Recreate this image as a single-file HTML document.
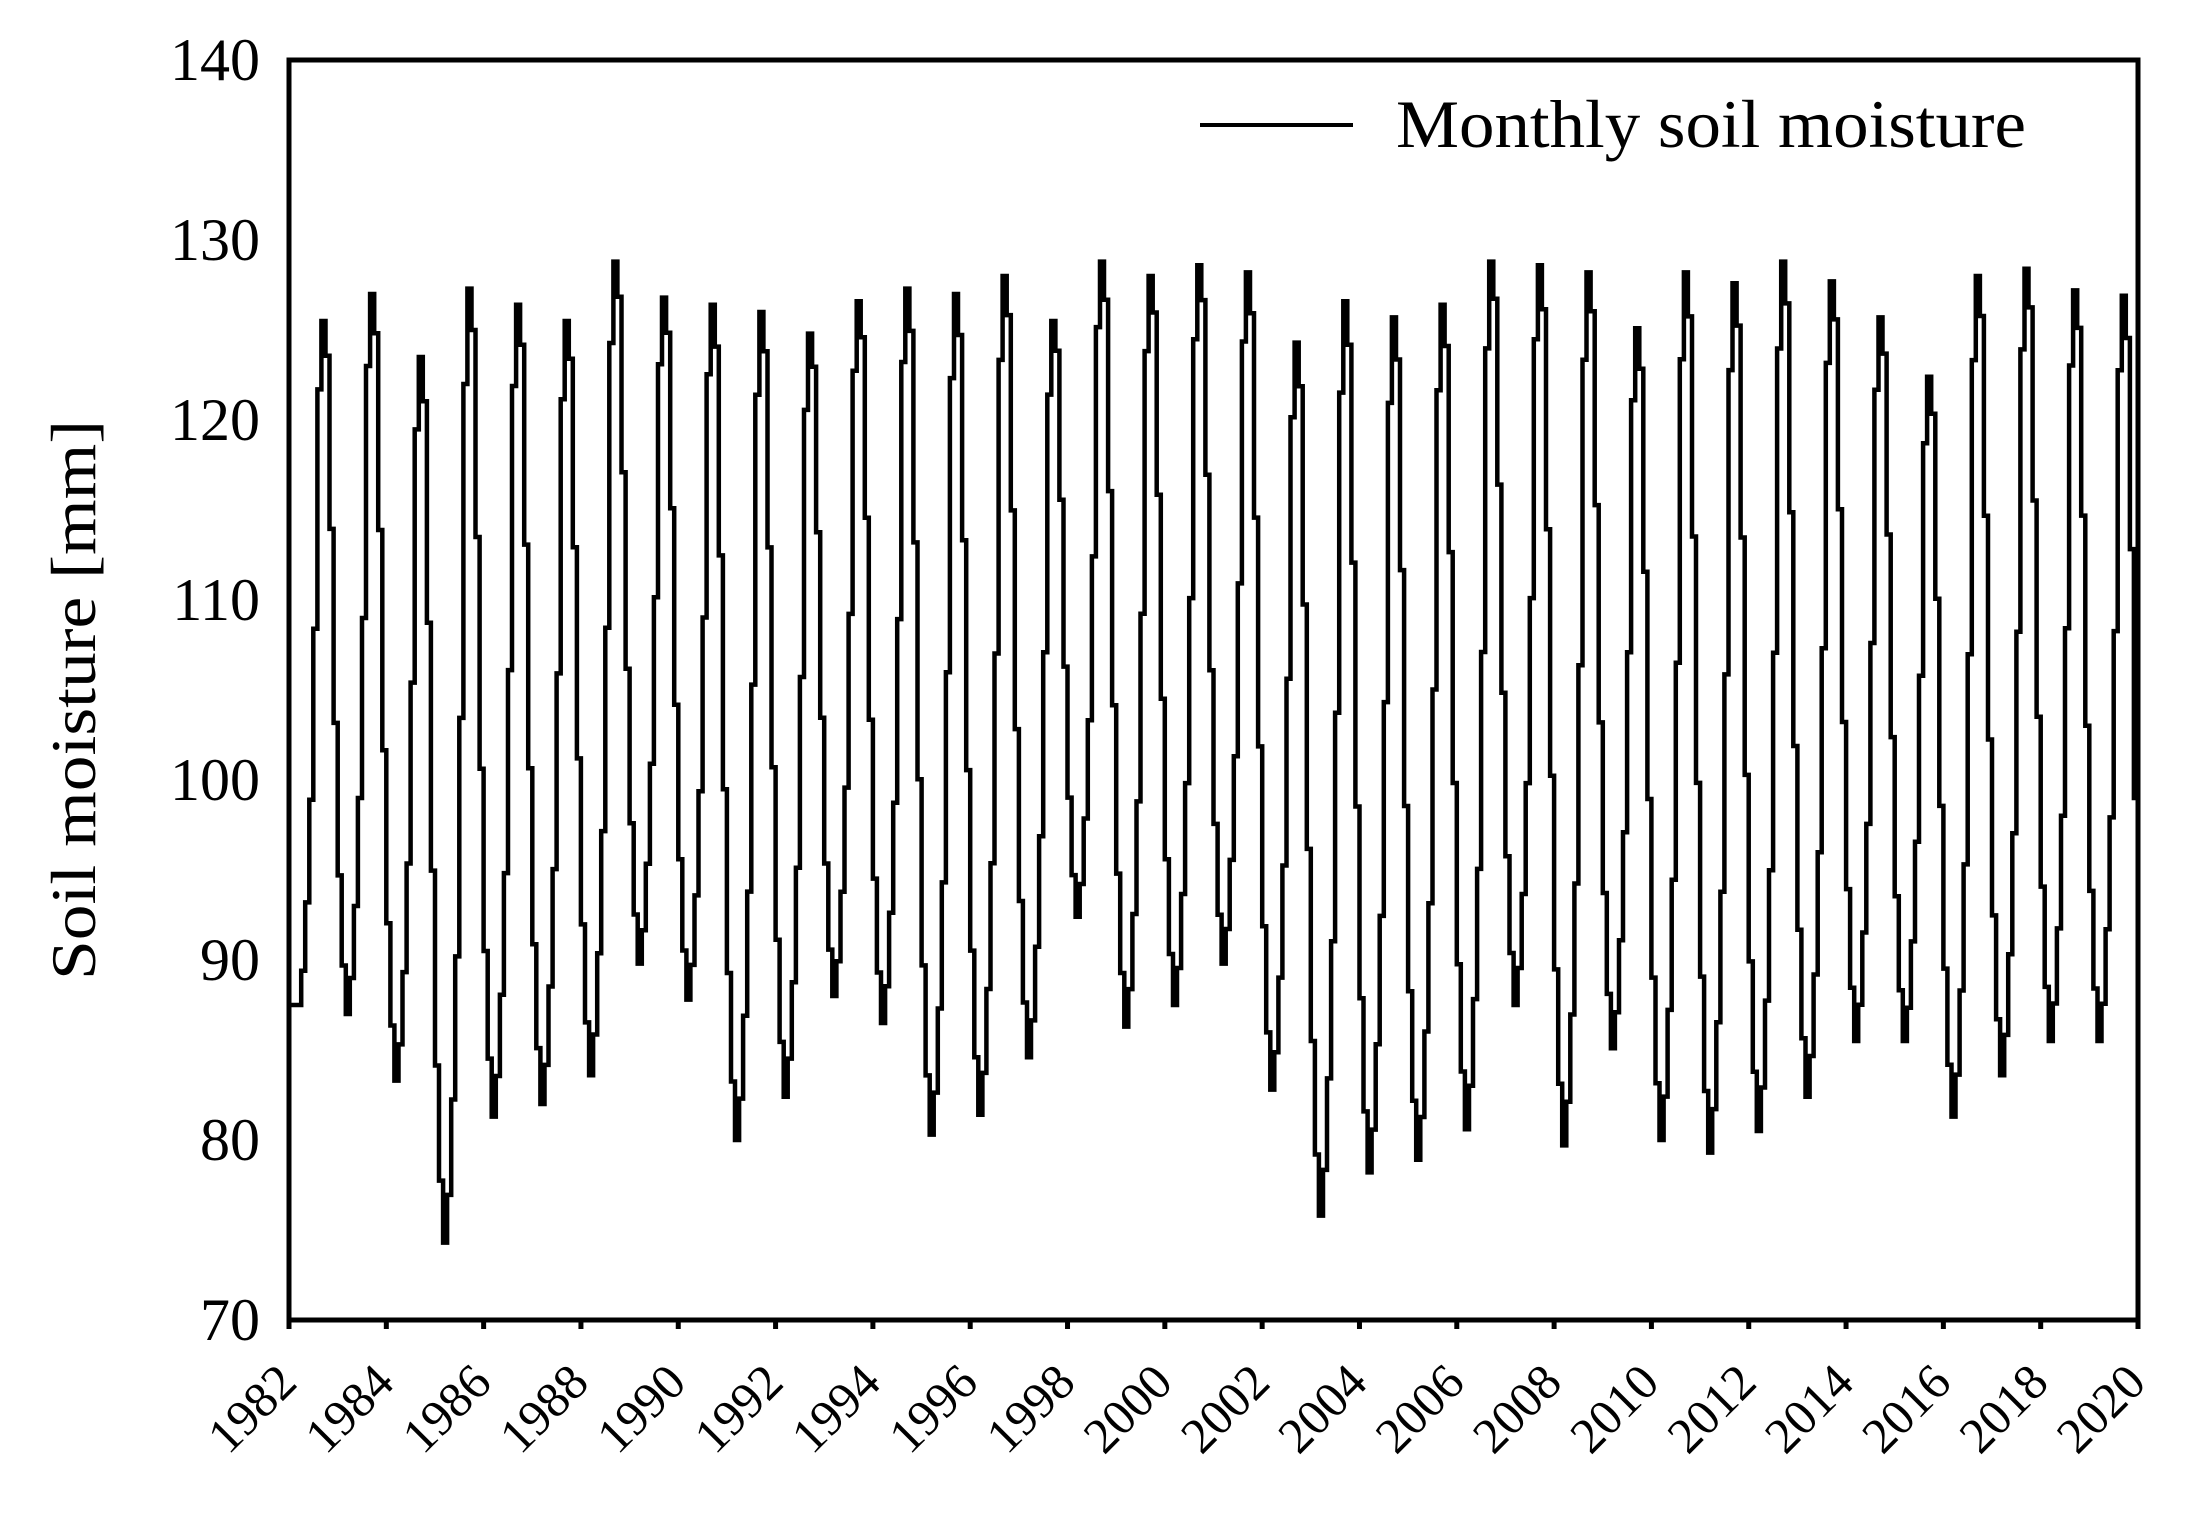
<!DOCTYPE html>
<html><head><meta charset="utf-8"><style>
html,body{margin:0;padding:0;background:#fff;}
svg{display:block;}
text{font-family:"Liberation Serif",serif;fill:#000;}
</style></head><body>
<svg id="s" width="2187" height="1532" viewBox="0 0 2187 1532" xmlns="http://www.w3.org/2000/svg">
<rect x="0" y="0" width="2187" height="1532" fill="#fff"/>
<g id="yl" font-size="60" text-anchor="end"></g>
<g id="xl" font-size="50"></g>
<path id="series" fill="none" stroke="#000" stroke-width="4.5" stroke-linejoin="miter"/>
<rect x="289" y="60" width="1849" height="1260" fill="none" stroke="#000" stroke-width="5"/>
<g id="ticks" stroke="#000" stroke-width="5"></g>
<line x1="1200" y1="125" x2="1353" y2="125" stroke="#000" stroke-width="4"/>
<text x="1396" y="147" font-size="68" textLength="630" lengthAdjust="spacingAndGlyphs">Monthly soil moisture</text>
<text transform="translate(95,700) rotate(-90)" font-size="64" text-anchor="middle" textLength="560" lengthAdjust="spacingAndGlyphs">Soil moisture [mm]</text>
</svg>
<script>
(function(){
var NS="http://www.w3.org/2000/svg";
var L=289,R=2138,T=60,B=1320;
function yv(v){return B-(v-70)*18;}
var yl=document.getElementById('yl');
for(var v=70;v<=140;v+=10){var t=document.createElementNS(NS,'text');t.setAttribute('x',260);t.setAttribute('y',yv(v)+20);t.textContent=v;yl.appendChild(t);}
var px=(R-L)/38;
var xl=document.getElementById('xl'),tk=document.getElementById('ticks');
for(var y=1982;y<=2020;y+=2){var x=L+(y-1982)*px;
var ln=document.createElementNS(NS,'line');ln.setAttribute('x1',x);ln.setAttribute('x2',x);ln.setAttribute('y1',B);ln.setAttribute('y2',B+9);tk.appendChild(ln);
var t=document.createElementNS(NS,'text');t.setAttribute('text-anchor','end');t.setAttribute('transform','translate('+(x+10)+',1385) rotate(-45)');t.textContent=y;xl.appendChild(t);}
var Tr=[87.5,87,83.3,74.3,81.3,82,83.6,89.8,87.8,80,82.4,88,86.5,80.3,81.4,84.6,92.4,86.3,87.5,89.8,82.8,75.8,78.2,78.9,80.6,87.5,79.7,85.1,80,79.3,80.5,82.4,85.5,85.5,81.3,83.6,85.5,85.5,80];
var Pk=[125.5,127,123.5,127.3,126.4,125.5,128.8,126.8,126.4,126,124.8,126.6,127.3,127,128,125.5,128.8,128,128.6,128.2,124.3,126.6,125.7,126.4,128.8,128.6,128.2,125.1,128.2,127.6,128.8,127.7,125.7,122.4,128,128.4,127.2,126.9];
var f=[0.2,0.07,0,0.05,0.15,0.3,0.55,0.9,1,0.95,0.7,0.42];
var vals=[];
for(var yi=0;yi<38;yi++){for(var m=0;m<12;m++){var v;
if(m<=1){var pp=yi>0?Pk[yi-1]:Pk[0];v=Tr[yi]+f[m]*(pp-Tr[yi]);}
else if(m<=8){v=Tr[yi]+f[m]*(Pk[yi]-Tr[yi]);}
else{v=Tr[yi+1]+f[m]*(Pk[yi]-Tr[yi+1]);}
if(yi==0&&m<2)v=87.5;
vals.push(v);}}
vals[455]=99;
var mw=(R-L)/456,d='';
for(var i=0;i<vals.length;i++){var x0=L+i*mw,y0=yv(vals[i]);
d+=(i==0?'M':'L')+x0.toFixed(1)+' '+y0.toFixed(1)+' L'+(x0+mw).toFixed(1)+' '+y0.toFixed(1)+' ';}
document.getElementById('series').setAttribute('d',d);
})();
</script>
</body></html>
